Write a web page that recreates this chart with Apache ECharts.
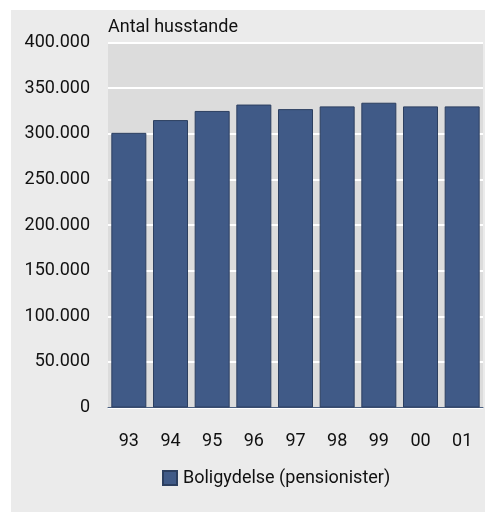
<!DOCTYPE html>
<html>
<head>
<meta charset="utf-8">
<script src="https://cdn.jsdelivr.net/npm/echarts@6/dist/echarts.min.js"></script>
<style>
  html, body { margin: 0; padding: 0; background: #ffffff; }
  #chart { width: 485px; height: 513px; }
</style>
</head>
<body>
<div id="chart"></div>
<script>
// Boligydelse til pensionister, antal husstande 1993-2001
const aar = ['93', '94', '95', '96', '97', '98', '99', '00', '01'];
const husstande = [301000, 315000, 325000, 332000, 327000, 330000, 334000, 330000, 330000];
const serieNavn = 'Boligydelse (pensionister)';
const akseTitel = 'Antal husstande';

const skrift = 'Roboto';
const barFarve = '#405a87';

const chart = echarts.init(document.getElementById('chart'));

const option = {
    backgroundColor: '#ffffff',
    animation: false,
    textStyle: { fontFamily: skrift },
    graphic: [
        // grå baggrundspanel
        { type: 'rect', left: 11, top: 10, z: -10, shape: { width: 474, height: 502 }, style: { fill: '#ebebeb' } },
        { type: 'text', left: 108, top: 18, style: { text: akseTitel, font: '18px ' + skrift, fill: '#111' } }
    ],
    grid: {
        left: 108, right: 2, top: 42.5, bottom: 105.5,
        show: true, backgroundColor: '#dcdcdc', borderWidth: 0
    },
    legend: {
        data: [serieNavn],
        left: 162, top: 469, padding: 0,
        itemWidth: 14, itemHeight: 14, itemGap: 6,
        icon: 'rect',
        textStyle: { fontFamily: skrift, fontSize: 18, color: '#111', padding: [0, 0, 0, 1] }
    },
    xAxis: {
        type: 'category',
        data: aar,
        axisTick: { show: false },
        axisLine: { show: true, lineStyle: { color: '#4a5f80', width: 1 } },
        axisLabel: { fontSize: 18, color: '#111', margin: 25 }
    },
    yAxis: {
        type: 'value',
        min: 0, max: 400000, interval: 50000,
        axisLine: { show: false },
        axisTick: { show: false },
        splitLine: { lineStyle: { color: '#ffffff', width: 2 } },
        axisLabel: {
            fontSize: 18, color: '#111', margin: 18,
            formatter: v => v === 0 ? '0' : (v / 1000).toFixed(0) + '.000'
        }
    },
    series: [{
        name: serieNavn,
        type: 'bar',
        data: husstande,
        barCategoryGap: '16%',
        itemStyle: { color: barFarve, borderColor: '#2c3f60', borderWidth: 1 }
    }]
};

chart.setOption(option);
</script>
</body>
</html>
